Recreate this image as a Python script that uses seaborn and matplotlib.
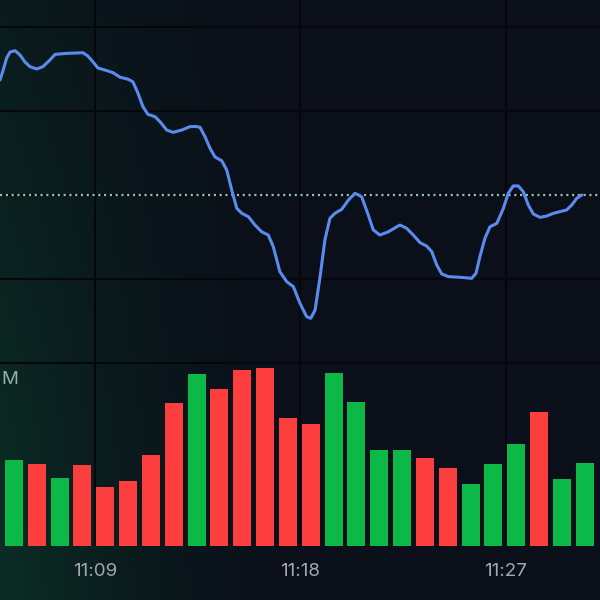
import numpy as np
import pandas as pd
import matplotlib.pyplot as plt
import seaborn as sns

# price line: minutes after 11:00 and price
price_min = [4.84, 4.98, 5.13, 5.28, 5.50, 5.72, 5.93, 6.15, 6.45, 6.72, 7.03, 7.25, 7.76, 8.47, 8.69,
             8.91, 9.13, 9.53, 9.79, 10.10, 10.45, 10.66, 10.88, 11.10, 11.32, 11.63, 11.85, 12.14,
             12.42, 12.81, 13.16, 13.42, 13.60, 13.82, 14.04, 14.26, 14.55, 14.77, 14.99, 15.21,
             15.43, 15.72, 16.01, 16.30, 16.59, 16.81, 17.10, 17.40, 17.69, 17.98, 18.27, 18.45,
             18.64, 18.86, 19.07, 19.29, 19.51, 19.81, 20.10, 20.39, 20.68, 20.97, 21.19, 21.48,
             21.85, 22.22, 22.36, 22.65, 22.94, 23.24, 23.53, 23.75, 23.97, 24.19, 24.48, 24.99,
             25.50, 25.69, 25.86, 26.08, 26.30, 26.60, 26.89, 27.10, 27.32, 27.54, 27.76, 27.98,
             28.20, 28.49, 28.79, 29.08, 29.37, 29.66, 29.88, 30.10, 30.32]
price = [100.685, 100.744, 100.815, 100.851, 100.859, 100.833, 100.792, 100.764, 100.750, 100.764,
         100.804, 100.837, 100.843, 100.847, 100.827, 100.793, 100.756, 100.740, 100.728, 100.701,
         100.689, 100.674, 100.607, 100.526, 100.480, 100.466, 100.436, 100.387, 100.373, 100.387,
         100.407, 100.408, 100.403, 100.347, 100.278, 100.226, 100.204, 100.149, 100.030, 99.921,
         99.891, 99.871, 99.821, 99.781, 99.762, 99.692, 99.543, 99.484, 99.454, 99.355, 99.276,
         99.266, 99.315, 99.514, 99.732, 99.861, 99.891, 99.915, 99.970, 100.010, 99.990, 99.881,
         99.792, 99.762, 99.781, 99.811, 99.821, 99.802, 99.762, 99.716, 99.696, 99.663, 99.583,
         99.530, 99.514, 99.510, 99.504, 99.534, 99.633, 99.742, 99.811, 99.831, 99.921, 100.010,
         100.054, 100.054, 100.020, 99.940, 99.887, 99.867, 99.875, 99.891, 99.901, 99.911,
         99.940, 99.980, 100.000]
prev_close = 100.0

# volume bars (one per minute, in millions)
bar_min = [5.45, 6.45, 7.45, 8.45, 9.45, 10.45, 11.45, 12.45, 13.45, 14.45, 15.45, 16.45, 17.45,
           18.45, 19.45, 20.45, 21.45, 22.45, 23.45, 24.45, 25.45, 26.45, 27.45, 28.45, 29.45, 30.45]
volume = [0.94, 0.90, 0.74, 0.89, 0.64, 0.71, 0.99, 1.56, 1.88, 1.72, 1.92, 1.95, 1.40,
          1.33, 1.89, 1.57, 1.05, 1.05, 0.96, 0.85, 0.68, 0.90, 1.11, 1.46, 0.73, 0.91]
direction = ["up", "down", "up", "down", "down", "down", "down", "down", "up", "down", "down",
             "down", "down", "down", "up", "up", "up", "up", "down", "down", "up", "up", "up",
             "down", "up", "up"]

tick_min = [9, 18, 27]
tick_labels = ["11:09", "11:18", "11:27"]

BG = "#0b0f19"
GRID = "#05070c"

fig = plt.figure(figsize=(6, 6), dpi=100)
fig.patch.set_facecolor(BG)

# background glow from the left edge
bg = fig.add_axes([0, 0, 1, 1], zorder=-5)
xx, yy = np.meshgrid(np.linspace(0, 1, 300), np.linspace(0, 1, 300))
w = np.clip(1 - xx / 0.5, 0, 1) ** 1.5 * (0.4 + 0.6 * yy)
base = np.array([11, 15, 25]) / 255
glow = np.array([10, 46, 36]) / 255
img = base[None, None, :] * (1 - w[..., None]) + glow[None, None, :] * w[..., None]
bg.imshow(img, aspect="auto", origin="upper", extent=[0, 1, 0, 1])
bg.axis("off")

xlim = (4.84, 31.12)

ax1 = fig.add_axes([0, 1 - 363 / 600, 1, 363 / 600])
ax2 = fig.add_axes([0, 54 / 600, 1, 183 / 600])
for ax in (ax1, ax2):
    ax.set_facecolor("none")
    for s in ax.spines.values():
        s.set_visible(False)
    ax.set_xlim(*xlim)
    for t in tick_min:
        ax.axvline(t, color=GRID, lw=1.5, zorder=0)

ax1.set_ylim(99.0, 101.1607)
for lvl in [101.0, 100.5, 100.0, 99.5, 99.0]:
    ax1.axhline(lvl, color=GRID, lw=1.5, zorder=0, clip_on=False)
ax1.axhline(prev_close, color="#8fbfae", lw=1.6, ls=(0, (1, 1.6)), zorder=1)

df_p = pd.DataFrame({"t": price_min, "p": price})
sns.lineplot(data=df_p, x="t", y="p", sort=False, color="#5a8cf0", lw=2.2, ax=ax1, zorder=3,
             solid_joinstyle="round", solid_capstyle="round")
ax1.set_xticks([])
ax1.set_yticks([])
ax1.set_xlabel("")
ax1.set_ylabel("")

df_v = pd.DataFrame({"t": bar_min, "v": volume, "d": direction})
sns.barplot(data=df_v, x="t", y="v", hue="d", palette={"up": "#0bb848", "down": "#fc3e3e"},
            dodge=False, native_scale=True, width=0.79, saturation=1, legend=False, ax=ax2)
ax2.set_xlim(*xlim)
ax2.set_ylim(0, 2.0)
ax2.set_yticks([])
ax2.set_ylabel("")
ax2.set_xlabel("")
ax2.set_xticks(tick_min)
ax2.set_xticklabels(tick_labels, fontsize=13.5, color="#a4a7ae", family=["Inter", "DejaVu Sans"])
ax2.tick_params(axis="x", length=0, pad=12)

# volume scale label, only its unit is visible at the left edge
ax2.text(1 / 600, 1 - 16 / 183, "M", transform=ax2.transAxes, ha="left", va="center",
         fontsize=13.5, color="#93b3a9", family=["Inter", "DejaVu Sans"])

fig.savefig("out.png", dpi=100, facecolor=BG)
